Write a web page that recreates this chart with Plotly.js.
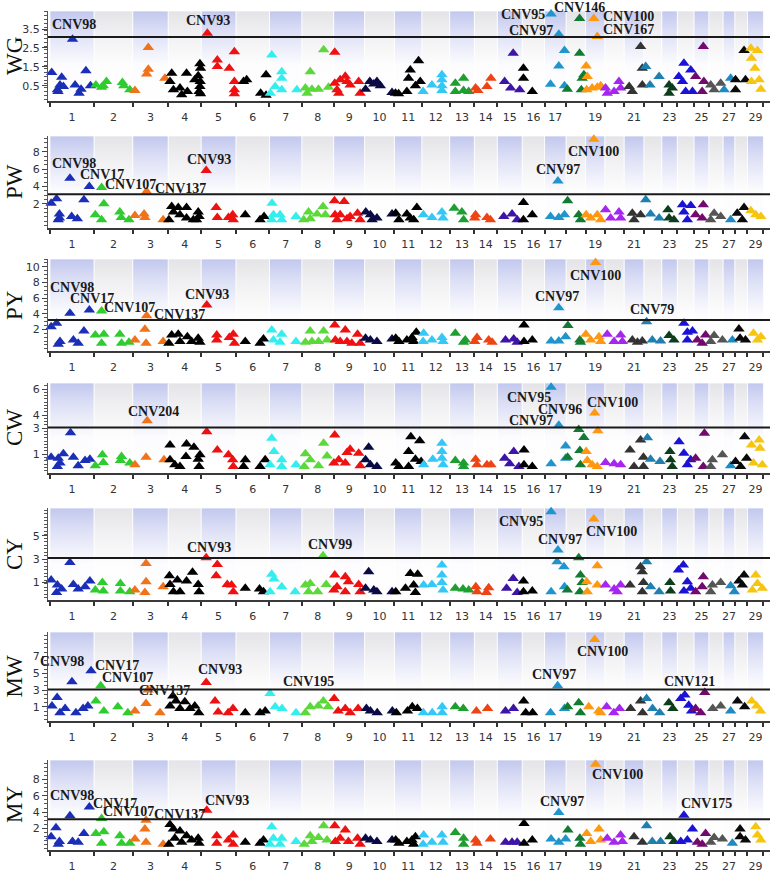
<!DOCTYPE html>
<html><head><meta charset="utf-8">
<script src="https://cdn.plot.ly/plotly-3.0.1.min.js"></script>
<style>html,body{margin:0;padding:0;background:#fff}#chart{width:778px;height:872px}</style>
</head><body><div id="chart"></div>
<script>
// Chromosome lengths (Mb, approx.) and axis labels
const chrLen = [155,135,125,115,123,117,114,111,109,104,97,97,87,80,88,78,76,68,68,67,70,62,55,58,53,49,42,44,56];
const tickChr = [1,2,3,4,5,6,7,8,9,10,11,12,13,14,15,16,17,19,21,23,25,27,29];
const chrColors = ["#1a2fb5","#2fcc2f","#f0731a","#000000","#ee1111","#000000","#33eeee","#5cd83a","#ee1111","#0a0a45",
  "#000000","#33c8f5","#1f9e30","#ee4414","#3d14a6","#000000","#1f95cc","#137a33","#ff9811","#a526ee",
  "#333333","#1f7fb0","#0d3d1d","#1c12d6","#720a6e","#555555","#1f8ac2","#0a0a0a","#f5c510"];
const traits = ["WG","PW","PY","CW","CY","MW","MY"];
const thresholds = [3.08, 3.1, 3.2, 3.05, 3.1, 3.05, 3.13];
const yTicks = [[0.5,1.5,2.5,3.5],[2,4,6,8],[2,4,6,8,10],[1,3,4,6],[1,3,5],[1,3,5,7],[2,4,6,8]];

// points: [chromosome, position (Mb), -log10(P)]
const WG = [
[1,6,1.2],[1,26,0.29],[1,28,0.2],[1,35,0.55],[1,41,0.96],[1,47,0.46],[1,79,2.96],[1,88,0.55],[1,102,0.11],[1,109,0.32],[1,126,1.3],[1,142,0.5],
[2,6,0.55],[2,26,0.43],[2,32,0.5],[2,43,0.73],[2,99,0.68],[2,104,0.5],[2,125,0.29],
[3,8,0.25],[3,49,1.13],[3,55,1.38],[3,55,2.52],[3,113,0.9],
[4,6,0.73],[4,12,1.17],[4,18,0.29],[4,41,0.38],[4,47,0.03],[4,64,1.17],[4,67,0.2],[4,93,0.82],[4,105,1.03],[4,108,0.2],[4,111,1.66],[4,111,0.46],[4,112,0.73],[4,113,1.43],[4,113,0.08],
[5,22,3.27],[5,57,1.87],[5,57,1.52],[5,99,1.43],[5,117,2.3],[5,117,0.73],[5,117,0.29],[5,117,0.08],
[6,26,0.73],[6,37,0.82],[6,86,0.11],[6,105,1.08],[6,105,0.0],
[7,3,0.11],[7,8,2.13],[7,20,0.46],[7,43,1.25],[7,43,0.9],[7,43,0.29],[7,96,0.29],
[8,12,0.38],[8,18,0.11],[8,29,1.25],[8,35,0.32],[8,58,0.32],[8,76,2.4],[8,93,0.43],
[9,4,2.27],[9,4,0.64],[9,12,0.29],[9,18,0.11],[9,23,0.82],[9,41,1.0],[9,47,0.73],[9,58,0.55],[9,88,0.73],[9,93,0.11],
[10,3,0.32],[10,18,0.73],[10,32,0.6],[10,43,0.73],[10,55,0.5],[10,96,0.15],
[11,4,0.11],[11,15,0.08],[11,44,0.2],[11,50,0.9],[11,56,1.34],[11,74,0.5],[11,85,1.83],[11,91,0.73],
[12,4,0.2],[12,35,0.55],[12,70,1.08],[12,70,0.82],[12,70,0.5],[12,70,0.25],
[13,20,0.64],[13,20,0.2],[13,49,0.9],[13,49,0.25],[13,67,0.2],
[14,4,0.38],[14,12,0.25],[14,44,0.46],[14,58,0.9],
[15,26,0.73],[15,47,0.38],[15,56,2.22],[15,79,0.29],
[16,4,1.43],[16,4,0.9],[16,35,0.2],
[17,21,0.59],[17,23,4.29],[17,50,3.22],[17,50,1.55],[17,70,2.36],[17,70,0.5],
[18,4,0.32],[18,47,4.06],[18,47,2.22],[18,53,0.29],[18,56,0.9],[18,62,1.08],
[19,2,1.55],[19,4,0.29],[19,6,0.99],[19,23,0.38],[19,29,4.06],[19,41,3.1],[19,41,0.43],[19,53,0.5],
[20,2,0.38],[20,8,0.11],[20,32,0.2],[20,49,0.73],[20,55,0.38],
[21,18,0.46],[21,29,0.2],[21,58,2.57],[21,64,1.43],[21,64,0.55],
[22,6,1.52],[22,21,0.55],[22,53,0.99],
[23,26,0.55],[23,26,0.11],[23,37,0.38],
[24,5,0.99],[24,18,0.73],[24,23,1.69],[24,29,0.2],[24,47,1.34],[24,53,0.2],
[25,6,0.99],[25,29,0.2],[25,33,2.57],[25,35,0.73],
[26,6,0.55],[26,18,0.29],[26,41,0.64],
[27,4,0.29],[27,27,0.9],
[28,2,0.82],[28,2,0.29],[28,32,2.36],[28,37,0.82],
[29,12,2.48],[29,14,1.96],[29,14,0.73],[29,26,1.43],[29,35,2.36],[29,41,0.82],[29,47,0.32]
];
const PW = [
[1,4,2.08],[1,23,2.57],[1,29,0.17],[1,33,0.82],[1,33,0.36],[1,70,4.94],[1,76,0.55],[1,96,0.28],[1,119,2.46],[1,138,3.98],
[2,4,0.74],[2,26,3.87],[2,26,0.17],[2,34,2.0],[2,90,1.05],[2,95,0.43],[2,122,0.17],
[3,8,0.66],[3,40,0.82],[3,43,0.43],[3,49,3.41],[3,107,0.17],
[4,2,0.17],[4,12,1.69],[4,18,1.05],[4,35,1.58],[4,41,0.74],[4,64,1.58],[4,64,0.36],[4,88,0.17],[4,99,0.17],[4,105,1.05],[4,108,0.55],
[5,18,5.82],[5,53,1.58],[5,57,0.43],[5,96,0.43],[5,111,0.74],[5,113,0.17],
[6,32,0.74],[6,84,0.17],[6,98,0.55],
[7,8,0.17],[7,9,2.08],[7,14,0.74],[7,37,0.74],[7,43,0.17],[7,93,0.55],
[8,6,0.17],[8,23,1.05],[8,29,0.28],[8,53,0.82],[8,74,1.69],[8,82,0.74],
[9,3,2.34],[9,5,0.74],[9,12,0.17],[9,23,0.74],[9,37,2.27],[9,47,0.28],[9,58,0.55],[9,84,0.93],[9,93,0.17],
[10,4,1.05],[10,20,0.74],[10,26,0.17],[10,43,0.36],[10,96,0.82],
[11,5,0.93],[11,16,0.17],[11,44,0.82],[11,56,0.36],[11,68,0.17],[11,79,1.58],
[12,5,0.74],[12,35,0.43],[12,70,1.05],[12,74,0.36],
[13,16,1.5],[13,43,1.05],[13,49,0.17],
[14,1,0.36],[14,4,0.74],[14,44,0.43],[14,56,0.17],
[15,23,0.55],[15,52,0.82],[15,70,0.17],
[16,4,2.15],[16,4,0.17],[16,35,0.74],
[17,21,0.55],[17,47,4.63],[17,50,0.43],[17,70,0.74],
[18,5,2.34],[18,44,0.74],[18,50,0.17],
[19,2,0.74],[19,18,0.36],[19,29,9.44],[19,41,0.74],[19,53,0.17],
[20,2,1.31],[20,20,0.36],[20,49,1.05],[20,55,0.36],
[21,29,0.93],[21,35,0.17],[21,58,0.74],
[22,6,2.46],[22,23,0.82],[22,53,0.36],
[23,22,1.31],[23,26,0.36],[23,43,0.17],
[24,18,1.89],[24,23,1.05],[24,35,0.17],[24,47,1.81],
[25,6,0.74],[25,29,0.36],[25,33,1.89],
[26,6,0.17],[26,18,0.93],[26,41,0.55],
[27,27,0.17],
[28,8,0.93],[28,26,0.17],[28,32,1.58],
[29,12,1.2],[29,29,0.74],[29,47,0.55]
];
const PY = [
[1,4,2.34],[1,23,2.77],[1,29,0.09],[1,35,0.43],[1,70,4.04],[1,82,0.64],[1,99,0.21],[1,119,1.79],[1,138,4.47],
[2,4,1.28],[2,26,4.34],[2,26,0.21],[2,34,1.36],[2,90,1.36],[2,96,0.21],[2,122,0.34],
[3,8,0.64],[3,43,2.0],[3,47,0.21],[3,49,3.74],[3,107,0.43],
[4,2,0.21],[4,12,1.28],[4,35,1.36],[4,41,0.43],[4,67,1.06],[4,82,0.43],[4,105,0.85],[4,111,0.34],
[5,20,5.1],[5,55,1.28],[5,55,0.64],[5,99,0.94],[5,113,1.36],[5,117,0.21],
[6,32,0.43],[6,84,0.21],[6,96,0.77],
[7,8,1.91],[7,14,0.64],[7,37,0.34],[7,43,1.36],[7,93,0.43],
[8,12,0.34],[8,29,1.79],[8,35,0.43],[8,58,0.43],[8,76,1.79],[8,88,0.64],
[9,4,2.55],[9,6,0.64],[9,23,0.43],[9,41,1.91],[9,47,0.43],[9,64,0.21],[9,84,1.36],[9,93,0.21],
[10,3,0.85],[10,20,0.64],[10,43,0.43],[10,96,0.77],
[11,5,0.85],[11,16,0.43],[11,44,0.64],[11,62,0.94],[11,68,0.43],[11,77,1.62],
[12,4,0.43],[12,6,1.49],[12,35,0.64],[12,70,0.94],[12,74,0.43],
[13,20,1.49],[13,49,0.34],[13,55,0.64],
[14,1,0.43],[14,9,0.94],[14,50,0.64],[14,62,0.34],
[15,29,0.64],[15,58,0.77],[15,70,0.34],
[16,6,2.55],[16,6,0.43],[16,35,0.64],
[17,23,0.51],[17,50,4.77],[17,50,0.51],[17,74,1.06],
[18,6,2.47],[18,48,0.64],[18,50,0.34],
[19,1,1.36],[19,18,0.64],[19,35,10.55],[19,47,1.06],[19,53,0.43],
[20,8,1.36],[20,32,0.43],[20,55,1.28],[20,61,0.43],
[21,29,0.64],[21,47,0.34],[21,64,0.51],
[22,9,2.98],[22,29,0.64],[22,58,0.51],
[23,26,1.19],[23,43,0.64],
[24,23,2.77],[24,35,1.62],[24,35,0.64],[24,53,1.79],
[25,12,0.64],[25,29,0.21],[25,41,1.28],
[26,6,0.43],[26,18,1.19],[26,47,0.64],
[27,33,0.64],
[28,14,2.04],[28,18,0.85],[28,37,0.64],
[29,21,1.49],[29,35,0.64],[29,47,1.06]
];
const CW = [
[1,4,0.77],[1,26,0.06],[1,29,0.7],[1,35,0.32],[1,47,1.03],[1,72,2.65],[1,82,0.77],[1,99,0.11],[1,123,0.52],[1,140,0.62],
[2,4,0.11],[2,29,0.95],[2,32,0.37],[2,92,0.52],[2,96,0.82],[2,125,0.32],
[3,8,0.19],[3,47,0.77],[3,51,3.56],[3,110,0.57],
[4,6,1.71],[4,6,0.57],[4,23,0.19],[4,41,0.06],[4,62,0.82],[4,64,1.78],[4,90,1.53],[4,105,0.62],[4,108,0.06],[4,111,0.95],
[5,20,2.72],[5,57,1.33],[5,96,0.95],[5,111,0.57],[5,113,0.06],
[6,26,0.06],[6,32,0.57],[6,84,0.06],[6,102,0.57],
[7,2,0.19],[7,8,2.22],[7,16,1.2],[7,43,0.57],[7,43,0.06],[7,93,0.19],
[8,8,0.06],[8,12,1.03],[8,29,0.57],[8,58,0.11],[8,76,1.84],[8,88,0.87],
[9,1,0.32],[9,4,2.47],[9,18,0.57],[9,41,0.32],[9,47,1.13],[9,58,1.38],[9,88,1.08],[9,93,0.11],
[10,3,0.57],[10,14,1.53],[10,20,0.19],[10,43,0.06],
[11,5,0.32],[11,16,0.06],[11,50,1.2],[11,50,0.06],[11,58,2.34],[11,74,0.62],[11,89,2.04],[11,94,0.44],
[12,6,0.19],[12,38,0.62],[12,70,1.84],[12,70,1.2],[12,70,0.7],[12,74,0.19],
[13,20,0.52],[13,49,0.32],[13,49,0.06],
[14,4,0.62],[14,9,0.19],[14,44,0.19],[14,58,0.19],
[15,26,0.7],[15,44,0.27],[15,58,1.2],[15,76,0.06],
[16,6,1.33],[16,6,0.19],[16,35,0.06],
[17,23,6.14],[17,23,0.27],[17,50,3.23],[17,74,1.63],[17,74,0.7],
[18,5,0.77],[18,44,2.9],[18,48,1.28],[18,50,0.19],[18,62,2.29],
[19,2,1.2],[19,6,0.52],[19,23,0.19],[19,32,4.16],[19,41,0.06],[19,43,2.8],
[20,2,0.37],[20,32,0.27],[20,55,0.19],
[21,21,1.33],[21,35,0.06],[21,58,2.09],[21,68,0.77],[21,68,0.06],
[22,12,2.27],[22,23,0.62],[22,56,0.44],
[23,29,1.2],[23,31,0.57],[23,37,0.06],
[24,6,1.96],[24,23,1.08],[24,35,0.19],[24,47,0.57],
[25,6,0.7],[25,33,0.06],[25,37,2.6],
[26,6,0.06],[26,12,0.57],[26,47,0.95],
[27,27,0.11],
[28,2,0.44],[28,20,0.06],[28,34,2.34],[28,41,0.7],
[29,14,1.71],[29,21,0.32],[29,41,2.09],[29,44,1.46],[29,52,0.19]
];
const CY = [
[1,4,1.2],[1,23,0.14],[1,26,0.77],[1,41,0.43],[1,70,2.71],[1,82,0.83],[1,99,0.43],[1,123,0.63],[1,140,1.11],
[2,4,0.34],[2,29,1.0],[2,32,0.26],[2,92,0.91],[2,92,0.26],[2,125,0.2],
[3,8,0.34],[3,43,0.14],[3,47,2.63],[3,47,1.06],[3,107,0.63],
[4,4,1.57],[4,6,0.83],[4,18,0.2],[4,32,1.2],[4,41,0.2],[4,64,1.11],[4,85,1.86],[4,105,0.83],[4,108,0.2],
[5,18,3.11],[5,53,1.57],[5,57,2.54],[5,92,0.83],[5,107,0.77],[5,113,0.2],
[6,32,0.49],[6,82,0.43],[6,96,0.2],
[7,2,0.2],[7,8,1.69],[7,16,1.29],[7,43,0.63],[7,90,0.2],
[8,12,0.77],[8,23,0.2],[8,29,0.91],[8,55,0.2],[8,74,3.29],[8,85,0.83],
[9,1,0.34],[9,4,1.63],[9,12,0.63],[9,41,1.49],[9,41,0.2],[9,52,1.06],[9,88,0.83],[9,93,0.2],
[10,3,0.49],[10,14,1.91],[10,32,0.34],[10,43,0.2],[10,96,0.2],
[11,5,0.2],[11,39,0.49],[11,56,1.77],[11,68,0.77],[11,74,0.14],[11,82,1.69],
[12,6,0.77],[12,35,0.83],[12,70,2.49],[12,70,1.63],[12,70,1.0],[12,74,0.34],
[13,20,0.49],[13,47,0.43],[13,67,0.34],
[14,5,0.63],[14,9,0.2],[14,42,0.14],[14,50,0.54],
[15,33,0.49],[15,56,1.34],[15,70,0.14],
[16,4,1.11],[16,4,0.2],[16,35,0.26],
[17,23,7.06],[17,23,0.2],[17,44,2.77],[17,47,3.77],[17,68,2.34],[17,70,0.63],
[18,4,0.34],[18,44,3.11],[18,48,0.2],[18,50,1.63],[18,56,1.0],
[19,4,1.06],[19,6,0.2],[19,29,6.43],[19,41,2.43],[19,41,0.77],
[20,2,0.77],[20,32,0.43],[20,43,0.2],[20,55,0.77],
[21,21,0.77],[21,58,2.34],[21,64,1.91],[21,64,0.2],[21,68,1.0],
[22,9,2.77],[22,23,0.63],[22,53,0.2],
[23,29,1.0],[23,31,0.26],
[24,4,2.06],[24,21,2.49],[24,23,0.26],[24,35,1.06],[24,47,0.49],
[25,6,0.2],[25,29,0.63],[25,33,1.49],
[26,6,0.2],[26,12,0.77],[26,41,1.0],
[27,27,0.71],[27,40,0.2],
[28,14,1.11],[28,26,0.77],[28,32,1.63],
[29,17,0.34],[29,29,1.63],[29,35,0.91],[29,52,0.49]
];
const MW = [
[1,7,1.1],[1,25,2.1],[1,35,0.3],[1,53,0.8],[1,77,4.0],[1,91,0.3],[1,116,0.8],[1,133,1.1],[1,144,5.3],
[2,6,1.7],[2,23,3.5],[2,34,0.5],[2,83,1.0],[2,118,0.3],
[3,8,0.5],[3,47,1.4],[3,54,3.0],[3,96,0.3],
[4,6,1.1],[4,16,2.3],[4,27,1.7],[4,41,0.8],[4,58,1.6],[4,76,0.8],[4,93,1.1],[4,107,0.3],
[5,18,3.9],[5,49,1.7],[5,60,0.4],[5,95,0.3],[5,112,0.8],
[6,32,0.3],[6,84,0.3],[6,102,0.5],
[7,2,2.6],[7,20,1.0],[7,44,0.8],[7,93,0.3],
[8,12,0.3],[8,29,1.0],[8,57,1.1],[8,75,1.7],[8,92,1.0],
[9,2,2.0],[9,16,0.5],[9,41,0.8],[9,58,0.3],[9,86,0.8],
[10,6,0.8],[10,20,0.5],[10,44,0.3],[10,97,0.5],
[11,7,0.3],[11,46,0.5],[11,63,1.0],[11,81,0.8],
[12,5,0.3],[12,36,0.3],[12,71,1.0],[12,71,0.3],
[13,20,1.0],[13,48,0.8],
[14,7,0.5],[14,46,0.8],
[15,29,0.5],[15,57,0.8],
[16,5,1.7],[16,12,0.3],[16,36,0.3],
[17,21,0.3],[17,46,3.5],[17,70,0.8],
[18,5,1.0],[18,44,1.5],[18,50,0.3],
[19,11,1.0],[19,32,9.0],[19,46,0.5],[19,53,0.3],
[20,6,1.0],[20,31,0.3],[20,51,0.8],
[21,23,0.8],[21,58,1.7],[21,65,0.3],
[22,9,2.0],[22,30,0.8],[22,55,0.3],
[23,25,1.5],[23,39,0.8],
[24,12,2.0],[24,26,2.4],[24,40,1.2],[24,50,0.5],
[25,6,0.8],[25,24,0.3],[25,38,2.7],
[26,13,0.8],[26,41,1.1],
[27,27,0.5],
[28,9,1.7],[28,34,1.0],
[29,15,1.7],[29,32,1.1],[29,46,0.5]
];
const MY = [
[1,4,0.99],[1,21,2.08],[1,29,0.06],[1,33,0.38],[1,70,3.54],[1,79,0.38],[1,99,0.3],[1,119,1.39],[1,138,4.63],
[2,6,1.39],[2,26,3.21],[2,26,0.18],[2,34,1.6],[2,90,1.11],[2,96,0.18],[2,125,0.18],
[3,8,0.7],[3,43,1.92],[3,47,3.01],[3,47,0.3],[3,107,0.06],
[4,2,0.06],[4,6,2.49],[4,18,1.92],[4,23,0.79],[4,41,1.68],[4,47,0.3],[4,64,1.11],[4,82,0.58],[4,105,0.79],[4,108,0.18],
[5,20,4.23],[5,55,1.11],[5,55,0.18],[5,96,0.58],[5,113,1.19],[5,113,0.06],
[6,32,0.3],[6,84,0.18],[6,96,0.58],
[7,2,0.06],[7,8,2.2],[7,14,0.79],[7,37,0.06],[7,43,0.79],[7,93,0.38],
[8,8,0.06],[8,29,1.11],[8,35,0.38],[8,58,0.87],[8,76,2.32],[8,88,0.58],
[9,4,2.32],[9,6,0.38],[9,23,0.79],[9,41,1.8],[9,52,0.38],[9,84,0.79],[9,93,0.06],
[10,3,0.79],[10,20,0.58],[10,43,0.38],[10,96,0.58],
[11,5,0.58],[11,16,0.18],[11,44,0.38],[11,62,0.58],[11,68,0.06],[11,74,0.99],
[12,4,0.06],[12,6,1.19],[12,35,0.3],[12,70,1.19],[12,74,0.3],
[13,20,1.51],[13,49,0.79],[13,49,0.06],
[14,4,0.58],[14,9,0.18],[14,56,0.7],
[15,29,0.3],[15,52,0.3],[15,70,0.3],
[16,6,2.61],[16,6,0.18],[16,35,0.58],
[17,23,0.7],[17,50,3.94],[17,50,0.3],[17,74,0.7],
[18,6,1.8],[18,48,0.79],[18,50,0.06],
[19,4,1.39],[19,18,0.38],[19,35,9.89],[19,47,1.92],[19,53,0.58],
[20,8,0.79],[20,32,0.3],[20,55,1.19],[20,61,0.38],
[21,35,0.99],[21,64,0.3],
[22,9,2.32],[22,29,0.38],[22,58,0.38],
[23,29,0.99],[23,43,0.38],
[24,12,0.38],[24,23,3.62],[24,35,0.58],[24,53,1.92],
[25,12,0.3],[25,29,0.06],[25,41,1.39],
[26,6,0.3],[26,18,0.87],[26,47,0.7],
[27,33,0.18],
[28,18,1.92],[28,18,0.99],[28,37,0.58],
[29,29,2.2],[29,35,1.19],[29,47,0.58]
];

// labels: [text, chromosome, position (Mb), value]
const WG_labels = [["CNV98",1,84,3.76],["CNV93",5,23,3.94],["CNV95",16,4,4.29],["CNV146",18,47,4.62],["CNV97",16,32,3.41],["CNV100",21,14,4.15],["CNV167",21,14,3.48]];
const PW_labels = [["CNV98",1,85,6.58],["CNV17",2,27,5.32],["CNV107",2,127,4.25],["CNV137",4,44,3.79],["CNV93",5,29,7.15],["CNV100",19,29,8.07],["CNV97",17,47,6.0]];
const PY_labels = [["CNV98",1,76,7.36],["CNV17",1,146,5.96],["CNV107",2,125,4.77],["CNV137",4,41,3.91],["CNV93",5,22,6.47],["CNV100",19,35,8.85],["CNV97",17,44,6.17],["CNV79",22,29,4.47]];
const CW_labels = [["CNV204",3,72,4.29],["CNV95",16,23,5.33],["CNV96",17,53,4.44],["CNV97",16,32,3.61],["CNV100",20,28,4.97]];
const CY_labels = [["CNV93",5,29,4.0],["CNV99",8,99,4.26],["CNV95",15,84,6.26],["CNV97",17,54,4.69],["CNV100",20,23,5.34]];
const MW_labels = [["CNV98",1,42,6.4],["CNV17",2,80,5.9],["CNV107",2,118,4.5],["CNV137",3,113,3.0],["CNV93",5,67,5.4],["CNV195",8,22,4.0],["CNV97",17,32,4.8],["CNV100",19,60,7.6],["CNV121",24,43,4.0]];
const MY_labels = [["CNV98",1,76,6.05],["CNV17",2,73,5.04],["CNV107",2,119,4.02],["CNV137",4,38,3.7],["CNV93",5,90,5.44],["CNV97",17,62,5.36],["CNV100",20,43,8.56],["CNV175",25,44,5.04]];

const panelData = [WG,PW,PY,CW,CY,MW,MY];
const panelLabels = [WG_labels,PW_labels,PY_labels,CW_labels,CY_labels,MW_labels,MY_labels];

// ---- layout settings (styling) ----
const H = 872;
const pix = [[11,101],[136,228],[259,351],[383,473],[508,600],[632,721],[760,850]];
const yRanges = [[-0.3,4.45],[-0.78,9.8],[-0.78,11.0],[-0.44,6.46],[-0.51,7.38],[-0.68,9.9],[-0.65,10.4]];
const minorDt = [0.2,0.5,0.5,0.25,0.3,0.5,0.5];

const starts = []; let acc = 0;
chrLen.forEach(l => { starts.push(acc); acc += l; });
const total = acc;
const centers = tickChr.map(c => starts[c-1] + chrLen[c-1]/2);
const bounds = starts.concat([total]);
const xRange = [-7, 2526];

const blueScale = [[0,'rgba(255,255,255,1)'],[0.4,'rgba(252,252,254,1)'],[0.75,'rgba(222,225,246,1)'],[1,'rgba(194,200,238,1)']];
const grayScale = [[0,'rgba(255,255,255,1)'],[0.4,'rgba(253,253,253,1)'],[0.75,'rgba(240,240,242,1)'],[1,'rgba(228,228,232,1)']];

const traces = [];
const layout = {
  width: 778, height: 872,
  margin: {l:48, r:8, t:0, b:0},
  paper_bgcolor: '#ffffff', plot_bgcolor: 'rgba(0,0,0,0)',
  showlegend: false,
  shapes: [], annotations: []
};

traits.forEach((name, i) => {
  const n = i === 0 ? '' : String(i+1);
  const xa = 'x' + n, ya = 'y' + n;
  const [y0, y1] = yRanges[i];
  // bands
  [0,1].forEach(parity => {
    const xs = [], ys = [];
    chrLen.forEach((l, k) => {
      if (k % 2 === parity) {
        const a = starts[k], b = a + l;
        xs.push(a, b, b, a, a, null);
        ys.push(y0, y0, y1, y1, y0, null);
      }
    });
    traces.push({type:'scatter', mode:'lines', x: xs, y: ys, xaxis: xa, yaxis: ya,
      fill:'toself', fillgradient:{type:'vertical', colorscale: parity === 0 ? blueScale : grayScale, start: y0, stop: y1},
      line:{width:0.8, color:'rgba(255,255,255,0.9)'}, hoverinfo:'skip', showlegend:false});
  });
  // points
  const pts = panelData[i];
  traces.push({type:'scatter', mode:'markers', name: name,
    x: pts.map(p => starts[p[0]-1] + p[1]), y: pts.map(p => p[2]),
    xaxis: xa, yaxis: ya, cliponaxis: false,
    marker: {symbol:'triangle-up', size: 10, color: pts.map(p => chrColors[p[0]-1]), line:{width:0}},
    hovertemplate: 'Chr %{text}<br>-log10(P) %{y}<extra></extra>', text: pts.map(p => p[0])});

  const dom = [1 - pix[i][1]/H, 1 - pix[i][0]/H];
  layout['xaxis' + n] = {
    domain:[0,1], anchor: ya, range: xRange, showgrid:false, zeroline:false,
    tickmode:'array', tickvals: centers, ticktext: tickChr.map(String),
    ticks:'outside', ticklen:5, tickcolor:'rgba(0,0,0,0)',
    minor:{tickmode:'array', tickvals: bounds, ticks:'outside', ticklen:4, tickwidth:2, tickcolor:'#333'},
    showline:true, linecolor:'#3a3a3a', linewidth:2,
    tickfont:{family:'DejaVu Sans', size:11, color:'#333'}, fixedrange:true
  };
  layout['yaxis' + n] = {
    domain: dom, anchor: xa, range: yRanges[i], showgrid:false, zeroline:false,
    tickmode:'array', tickvals: yTicks[i], ticktext: yTicks[i].map(String),
    ticks:'outside', ticklen:5, tickcolor:'#444', tickwidth:1,
    minor:{dtick: minorDt[i], tick0: 0, ticks:'outside', ticklen:3, tickcolor:'#555', tickwidth:1},
    showline:true, linecolor:'#555', linewidth:1,
    tickfont:{family:'DejaVu Sans', size:11, color:'#333'}, fixedrange:true
  };
  // threshold line
  layout.shapes.push({type:'line', xref: xa + ' domain', x0:0, x1:1, yref: ya, y0: thresholds[i], y1: thresholds[i],
    line:{color:'#1a1a1a', width:2}});
  // trait title
  layout.annotations.push({text: name, xref:'paper', x: -0.047, xanchor:'center', yref: ya + ' domain', y: 0.5, yanchor:'middle',
    textangle:-90, showarrow:false, font:{family:'Liberation Serif', size:23, color:'#111'}});
  // CNV labels (placed in axis-domain units so labels above the range stay visible)
  panelLabels[i].forEach(lb => {
    layout.annotations.push({text: '<b>' + lb[0] + '</b>', xref: xa, yref: ya + ' domain',
      x: starts[lb[1]-1] + lb[2], y: (lb[3] - y0) / (y1 - y0), xanchor:'center', yanchor:'middle', showarrow:false,
      font:{family:'Liberation Serif', size:14, color:'#1a1a1a'}});
  });
});

Plotly.newPlot('chart', traces, layout, {displayModeBar:false, staticPlot:true});
</script>
</body></html>
